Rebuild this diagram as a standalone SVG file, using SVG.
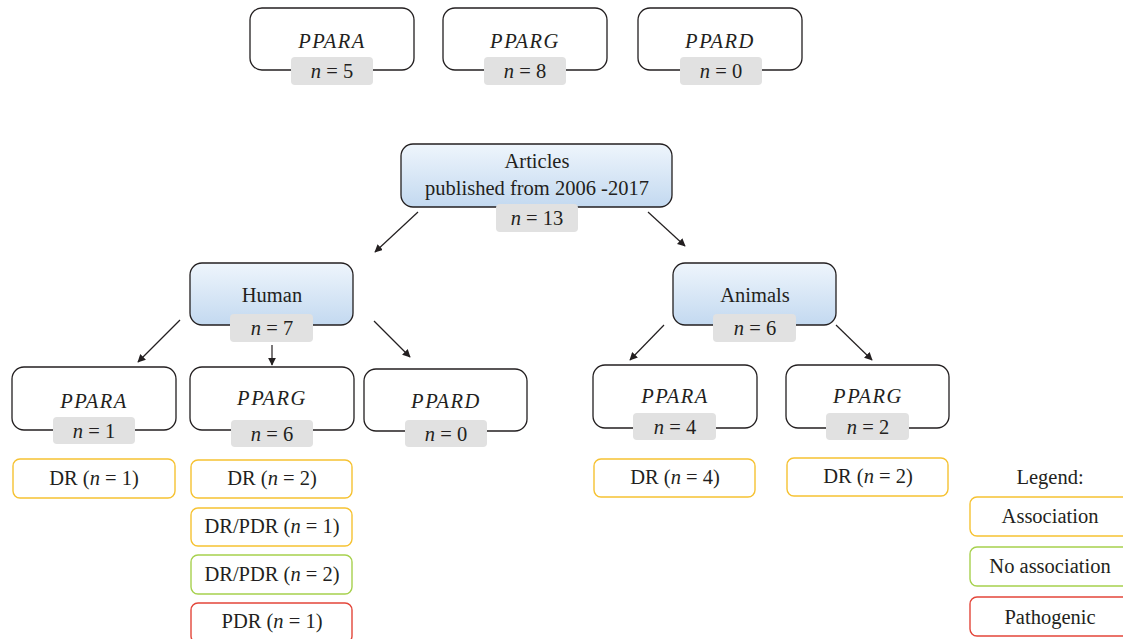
<svg xmlns="http://www.w3.org/2000/svg" width="1123" height="639" viewBox="0 0 1123 639">
<defs>
<linearGradient id="blue" x1="0" y1="0" x2="0" y2="1">
<stop offset="0" stop-color="#eef5fc"/>
<stop offset="1" stop-color="#c3d9f0"/>
</linearGradient>
<marker id="ah" viewBox="0 0 10 10" refX="9" refY="5" markerWidth="8" markerHeight="8" markerUnits="userSpaceOnUse" orient="auto">
<path d="M0,0 L10,5 L0,10 z" fill="#231f20"/>
</marker>
<style>
text{font-family:"Liberation Serif","DejaVu Serif",serif;fill:#231f20;font-size:20.5px;text-anchor:middle}
.gene{font-style:italic;letter-spacing:1.5px}
.node{fill:#fff;stroke:#231f20;stroke-width:1.3}
.cat{fill:url(#blue);stroke:#231f20;stroke-width:1.3}
.lab{fill:#e1e1e1;stroke:none}
.yel{fill:#fff;stroke:#f6c232;stroke-width:1.4}
.grn{fill:#fff;stroke:#a7d14e;stroke-width:1.4}
.red{fill:#fff;stroke:#e3463a;stroke-width:1.4}
.conn line{stroke:#231f20;stroke-width:1.2;marker-end:url(#ah)}
</style>
</defs>
<g id="top-ppara"><rect class="node" x="250" y="8" width="164" height="62" rx="12"/><text class="gene" x="332" y="48">PPARA</text><rect class="lab" x="291" y="57" width="82" height="28" rx="4"/><text x="332" y="78"><tspan font-style="italic">n</tspan> = 5</text></g>
<g id="top-pparg"><rect class="node" x="443" y="8" width="164" height="62" rx="12"/><text class="gene" x="525" y="48">PPARG</text><rect class="lab" x="484" y="57" width="82" height="28" rx="4"/><text x="525" y="78"><tspan font-style="italic">n</tspan> = 8</text></g>
<g id="top-ppard"><rect class="node" x="638" y="8" width="164" height="62" rx="12"/><text class="gene" x="720" y="48">PPARD</text><rect class="lab" x="680" y="57" width="82" height="28" rx="4"/><text x="721" y="78"><tspan font-style="italic">n</tspan> = 0</text></g>

<g id="articles"><rect class="cat" x="401" y="144" width="271" height="63" rx="12"/><text x="537" y="168">Articles</text><text x="537" y="195">published from 2006 -2017</text><rect class="lab" x="496" y="204" width="82" height="28" rx="4"/><text x="537" y="225"><tspan font-style="italic">n</tspan> = 13</text></g>

<g id="human"><rect class="cat" x="190" y="263" width="163" height="62" rx="12"/><text x="272" y="302">Human</text><rect class="lab" x="230" y="314" width="83" height="28" rx="4"/><text x="272" y="335"><tspan font-style="italic">n</tspan> = 7</text></g>
<g id="animals"><rect class="cat" x="673" y="263" width="163" height="62" rx="12"/><text x="755" y="302">Animals</text><rect class="lab" x="713" y="314" width="83" height="28" rx="4"/><text x="755" y="335"><tspan font-style="italic">n</tspan> = 6</text></g>

<g id="h-ppara"><rect class="node" x="12" y="367" width="164" height="63" rx="12"/><text class="gene" x="94" y="408">PPARA</text><rect class="lab" x="53" y="417" width="82" height="27" rx="4"/><text x="94" y="438"><tspan font-style="italic">n</tspan> = 1</text></g>
<g id="h-pparg"><rect class="node" x="190" y="367" width="164" height="63" rx="12"/><text class="gene" x="272" y="405">PPARG</text><rect class="lab" x="231" y="420" width="82" height="27" rx="4"/><text x="272" y="441"><tspan font-style="italic">n</tspan> = 6</text></g>
<g id="h-ppard"><rect class="node" x="364" y="369" width="163" height="62" rx="12"/><text class="gene" x="446" y="408">PPARD</text><rect class="lab" x="405" y="420" width="82" height="27" rx="4"/><text x="446" y="441"><tspan font-style="italic">n</tspan> = 0</text></g>
<g id="a-ppara"><rect class="node" x="593" y="365" width="164" height="63" rx="12"/><text class="gene" x="675" y="403">PPARA</text><rect class="lab" x="633" y="413" width="83" height="27" rx="4"/><text x="675" y="434"><tspan font-style="italic">n</tspan> = 4</text></g>
<g id="a-pparg"><rect class="node" x="786" y="365" width="163" height="63" rx="12"/><text class="gene" x="868" y="403">PPARG</text><rect class="lab" x="826" y="413" width="83" height="27" rx="4"/><text x="868" y="434"><tspan font-style="italic">n</tspan> = 2</text></g>

<g id="o-h-ppara-dr"><rect class="yel" x="13" y="459" width="162" height="39" rx="7"/><text x="94" y="485">DR (<tspan font-style="italic">n</tspan> = 1)</text></g>
<g id="o-h-pparg-dr"><rect class="yel" x="191" y="460" width="161" height="38" rx="7"/><text x="272" y="485">DR (<tspan font-style="italic">n</tspan> = 2)</text></g>
<g id="o-h-pparg-drpdr1"><rect class="yel" x="191" y="508" width="161" height="38" rx="7"/><text x="272" y="533">DR/PDR (<tspan font-style="italic">n</tspan> = 1)</text></g>
<g id="o-h-pparg-drpdr2"><rect class="grn" x="191" y="555" width="161" height="39" rx="7"/><text x="272" y="581">DR/PDR (<tspan font-style="italic">n</tspan> = 2)</text></g>
<g id="o-h-pparg-pdr"><rect class="red" x="191" y="603" width="161" height="40" rx="7"/><text x="272" y="628">PDR (<tspan font-style="italic">n</tspan> = 1)</text></g>
<g id="o-a-ppara-dr"><rect class="yel" x="594" y="459" width="161" height="38" rx="7"/><text x="675" y="484">DR (<tspan font-style="italic">n</tspan> = 4)</text></g>
<g id="o-a-pparg-dr"><rect class="yel" x="787" y="458" width="161" height="38" rx="7"/><text x="868" y="483">DR (<tspan font-style="italic">n</tspan> = 2)</text></g>

<g id="legend">
<text x="1050" y="484">Legend:</text>
<rect class="yel" x="970" y="497" width="170" height="39" rx="7"/><text x="1050" y="523">Association</text>
<rect class="grn" x="970" y="547" width="170" height="39" rx="7"/><text x="1050" y="573">No association</text>
<rect class="red" x="970" y="597" width="170" height="39" rx="7"/><text x="1050" y="624">Pathogenic</text>
</g>

<g id="connectors" class="conn">
<line x1="418" y1="212" x2="375" y2="252"/>
<line x1="648" y1="212" x2="685" y2="246"/>
<line x1="180" y1="320" x2="138" y2="362"/>
<line x1="272" y1="345" x2="272" y2="365"/>
<line x1="374" y1="321" x2="410" y2="357"/>
<line x1="664" y1="325" x2="630" y2="360"/>
<line x1="836" y1="325" x2="872" y2="360"/>
</g>
</svg>
